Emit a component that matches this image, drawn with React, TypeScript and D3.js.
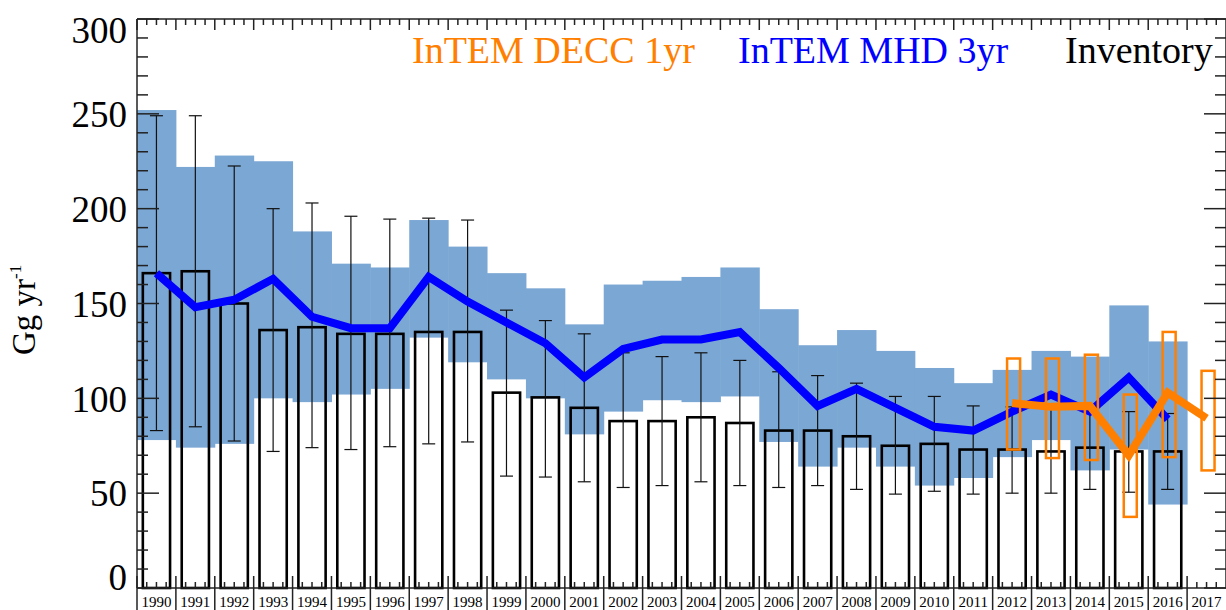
import * as d3 from "d3";
import { useRef, useEffect } from "react";

const years = d3.range(1990, 2018).map(String);

// InTEM MHD 3yr (1990-2016)
const mhdYears = years.slice(0, 27);
const mhdMean = [166, 148, 152, 163, 143, 137, 137, 164, 151, 140, 129, 111, 126, 131, 131, 135, 116, 96, 105, 95, 85, 83, 93, 102, 93, 111, 89];
const mhdUpper = [252, 222, 228, 225, 188, 171, 169, 194, 180, 166, 158, 139, 160, 162, 164, 169, 147, 128, 136, 125, 116, 108, 115, 125, 122, 149, 130];
const mhdLower = [78, 74, 76, 100, 98, 102, 105, 132, 119, 110, 100, 81, 93, 99, 98, 101, 77, 64, 74, 64, 54, 58, 69, 78, 62, 73, 44];

// Inventory (1990-2016)
const invYears = years.slice(0, 27);
const invValue = [166, 167, 150, 136, 137.5, 134, 134, 135, 135, 103, 100.5, 95, 88, 88, 90, 87, 83, 83, 80, 75, 76, 73, 73, 72, 74, 72, 72];
const invUpper = [249, 249, 222.5, 200, 203, 196, 194.5, 195, 194, 146.5, 141, 134, 124, 122, 124, 120, 114, 112, 108, 101, 101, 96, 95.5, 95.5, 95, 93, 92];
const invLower = [83, 85, 77.5, 72, 74, 73, 74.5, 76, 77, 59, 58.5, 56, 53, 54, 56, 54, 53, 54, 52, 49.5, 51, 49.5, 50, 50, 52, 50.5, 52];

// InTEM DECC 1yr (2012-2017)
const deccYears = ["2012", "2013", "2014", "2015", "2016", "2017"];
const deccMean = [97.5, 95.5, 96, 70, 103, 89.5];
const deccUpper = [121, 121, 123, 102, 135, 114.5];
const deccLower = [73, 68.5, 67.5, 37.5, 69, 62];

const yTicks = [0, 50, 100, 150, 200, 250, 300];

const ORANGE = "#ff8000";
const BLUE = "#0000ff";
const BAND = "#7ba7d4";

export default function App() {
  const svgRef = useRef(null);
  const width = 1226;
  const height = 610;

  useEffect(() => {
    const svg = d3.select(svgRef.current);
    svg.selectAll("*").remove();

    const left = 137, right = 1226, top = 19, bottom = 588;

    const x = d3.scaleBand().domain(years).range([left, right]);
    const xBar = d3.scaleBand().domain(years).range([left, right]).paddingInner(0.3).paddingOuter(0.15);
    const y = d3.scaleLinear().domain([0, 300]).range([bottom, top]);
    const cx = (d) => x(d) + x.bandwidth() / 2;

    // MHD uncertainty band (steps per year)
    svg.append("g")
      .selectAll("rect")
      .data(mhdYears)
      .join("rect")
      .attr("x", (d) => x(d))
      .attr("width", x.bandwidth() + 0.5)
      .attr("y", (d, i) => y(mhdUpper[i]))
      .attr("height", (d, i) => y(mhdLower[i]) - y(mhdUpper[i]))
      .attr("fill", BAND);

    // Inventory bars (outline only)
    svg.append("g")
      .selectAll("rect")
      .data(invYears)
      .join("rect")
      .attr("x", (d) => xBar(d))
      .attr("width", xBar.bandwidth())
      .attr("y", (d, i) => y(invValue[i]))
      .attr("height", (d, i) => y(0) - y(invValue[i]))
      .attr("fill", "none")
      .attr("stroke", "#000")
      .attr("stroke-width", 2.6);

    // Inventory error bars
    const err = svg.append("g").attr("stroke", "#111").attr("stroke-width", 1.2);
    invYears.forEach((d, i) => {
      const c = cx(d);
      err.append("line").attr("x1", c).attr("x2", c).attr("y1", y(invUpper[i])).attr("y2", y(invLower[i]));
      err.append("line").attr("x1", c - 6.5).attr("x2", c + 6.5).attr("y1", y(invUpper[i])).attr("y2", y(invUpper[i]));
      err.append("line").attr("x1", c - 6.5).attr("x2", c + 6.5).attr("y1", y(invLower[i])).attr("y2", y(invLower[i]));
    });

    const line = d3.line().x((d) => cx(d[0])).y((d) => y(d[1]));

    // MHD mean line
    svg.append("path")
      .attr("d", line(mhdYears.map((d, i) => [d, mhdMean[i]])))
      .attr("fill", "none")
      .attr("stroke", BLUE)
      .attr("stroke-width", 8)
      .attr("stroke-linejoin", "miter");

    // DECC uncertainty boxes
    svg.append("g")
      .selectAll("rect")
      .data(deccYears)
      .join("rect")
      .attr("x", (d) => cx(d) - 5)
      .attr("width", 13)
      .attr("y", (d, i) => y(deccUpper[i]))
      .attr("height", (d, i) => y(deccLower[i]) - y(deccUpper[i]))
      .attr("fill", "none")
      .attr("stroke", ORANGE)
      .attr("stroke-width", 2.5);

    // DECC mean line
    svg.append("path")
      .attr("d", line(deccYears.map((d, i) => [d, deccMean[i]])))
      .attr("fill", "none")
      .attr("stroke", ORANGE)
      .attr("stroke-width", 8);

    // Axes frame
    const axis = svg.append("g").attr("stroke", "#222").attr("stroke-width", 1.5);
    axis.append("line").attr("x1", left).attr("x2", left).attr("y1", top).attr("y2", bottom);
    axis.append("line").attr("x1", right).attr("x2", right).attr("y1", top).attr("y2", bottom);
    axis.append("line").attr("x1", left).attr("x2", right).attr("y1", top).attr("y2", top);
    axis.append("line").attr("x1", left).attr("x2", right).attr("y1", bottom).attr("y2", bottom);

    // Y ticks (major every 50, minor every 10), both sides
    d3.range(0, 301, 10).forEach((v) => {
      const len = v % 50 === 0 ? 22 : 11;
      axis.append("line").attr("x1", left).attr("x2", left + len).attr("y1", y(v)).attr("y2", y(v));
      axis.append("line").attr("x1", right - len).attr("x2", right).attr("y1", y(v)).attr("y2", y(v));
    });

    // X ticks: quarter-year minor, year boundaries major
    const step = x.step();
    years.forEach((d) => {
      const x0 = x(d);
      for (let q = 1; q < 4; q++) {
        const xx = x0 + (q * step) / 4;
        axis.append("line").attr("x1", xx).attr("x2", xx).attr("y1", top).attr("y2", top + 6);
        axis.append("line").attr("x1", xx).attr("x2", xx).attr("y1", bottom).attr("y2", bottom - 6);
      }
      axis.append("line").attr("x1", x0).attr("x2", x0).attr("y1", top).attr("y2", top + 11);
      axis.append("line").attr("x1", x0).attr("x2", x0).attr("y1", bottom - 12).attr("y2", height);
    });

    // Y tick labels
    svg.append("g")
      .selectAll("text")
      .data(yTicks)
      .join("text")
      .attr("x", 127)
      .attr("y", (d) => (d === 0 ? y(d) - 11 : d === 300 ? y(d) + 11 : y(d)))
      .attr("dy", "0.36em")
      .attr("text-anchor", "end")
      .style("font-family", "'Liberation Serif', 'Times New Roman', serif")
      .style("font-size", "37px")
      .text((d) => d);

    // Year labels
    svg.append("g")
      .selectAll("text")
      .data(years)
      .join("text")
      .attr("x", (d) => cx(d))
      .attr("y", 607)
      .attr("text-anchor", "middle")
      .style("font-family", "'Liberation Serif', 'Times New Roman', serif")
      .style("font-size", "15px")
      .text((d) => d);

    // Y axis title
    const title = svg.append("text")
      .attr("transform", "translate(35,355) rotate(-90)")
      .style("font-family", "'Liberation Serif', 'Times New Roman', serif")
      .style("font-size", "33px");
    title.append("tspan").text("Gg yr");
    title.append("tspan").attr("dy", -14).style("font-size", "17px").text("-1");

    // Legend
    const legend = [
      { label: "InTEM DECC 1yr", color: ORANGE, x: 412 },
      { label: "InTEM MHD 3yr", color: BLUE, x: 738 },
      { label: "Inventory", color: "#000", x: 1065 },
    ];
    svg.append("g")
      .selectAll("text")
      .data(legend)
      .join("text")
      .attr("x", (d) => d.x)
      .attr("y", 63)
      .attr("fill", (d) => d.color)
      .style("font-family", "'Liberation Serif', 'Times New Roman', serif")
      .style("font-size", "38px")
      .text((d) => d.label);
  }, []);

  return (
    <svg
      ref={svgRef}
      width={width}
      height={height}
      style={{ position: "absolute", left: 0, top: 0, background: "#fff" }}
    />
  );
}
